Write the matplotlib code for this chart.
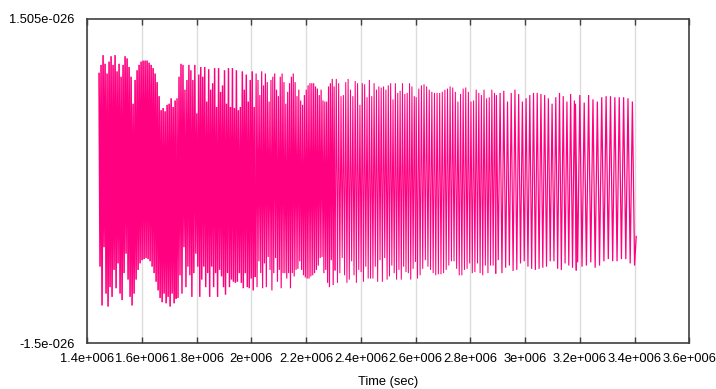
import numpy as np
import matplotlib
matplotlib.use("Agg")
import matplotlib.pyplot as plt

plt.rcParams["font.family"] = ["Liberation Sans", "DejaVu Sans"]

# strain peaks in units of 1e-27, times in units of 1e6 s
# each stretch: (time of first upper peak, time of last upper peak)
stretch_times = [
    (1.443, 1.721),
    (1.728, 2.010),
    (2.017, 2.302),
    (2.310, 2.595),
    (2.602, 2.888),
    (2.895, 3.180),
    (3.184, 3.392),
]

tops_a = [10.0, 10.8, 11.7, 10.9, 10.0, 11.1, 11.6, 10.8, 11.7, 10.2, 10.9, 9.7, 10.8,
          11.6, 11.4, 10.6, 9.7, 7.2, 9.4, 10.3, 10.8, 11.1, 11.2, 11.2, 11.2, 11.0,
          10.8, 10.5, 10.0, 9.2, 7.9, 6.6, 6.8, 6.5, 7.1, 7.2, 7.7, 6.9, 7.5]
bots_a = [-7.9, -11.5, -6.1, -10.4, -11.6, -9.8, -10.7, -8.2, -9.9, -7.6, -10.4, -11.0,
          -8.5, -6.7, -9.1, -10.7, -11.5, -10.4, -9.1, -8.2, -7.6, -7.3, -7.2, -7.1,
          -7.2, -7.4, -7.9, -8.5, -9.3, -10.1, -10.8, -11.2, -10.4, -11.3, -10.7, -11.6,
          -10.4, -11.3, -10.8]

tops_b = [7.7, 9.7, 10.9, 10.8, 8.5, 9.4, 10.8, 10.3, 9.4, 10.8, 6.3, 9.9, 10.6, 9.7,
          10.6, 7.4, 10.4, 8.5, 9.1, 10.5, 6.9, 10.5, 8.3, 8.9, 10.3, 7.2, 10.5, 6.9,
          10.5, 6.8, 10.3, 6.6, 6.9, 10.2, 8.5, 9.9, 7.4, 9.4, 10.2, 6.9]
bots_b = [-10.8, -8.7, -10.4, -6.1, -9.8, -7.9, -8.7, -10.7, -8.5, -6.7, -7.9, -10.7,
          -9.1, -7.9, -9.8, -8.5, -10.7, -7.9, -9.8, -8.5, -10.7, -8.2, -8.8, -9.8,
          -10.5, -8.5, -9.8, -9.1, -9.3, -9.4, -9.3, -8.5, -9.4, -9.9, -8.5, -9.8,
          -9.9, -9.0, -10.1, -8.8]

tops_c = [10.0, 9.4, 8.0, 10.2, 8.9, 10.0, 9.2, 7.4, 9.4, 9.7, 10.0, 8.5, 7.9, 9.7,
          10.0, 9.2, 7.2, 8.3, 9.1, 9.7, 10.0, 9.2, 7.9, 8.5, 7.5, 7.1, 8.0, 8.5, 8.9,
          9.1, 9.1, 9.1, 8.8, 8.6, 8.0, 8.5, 7.5, 7.4, 7.4, 8.8, 9.1, 9.5, 8.8]
bots_c = [-9.8, -7.4, -8.5, -9.9, -7.6, -9.8, -7.0, -8.2, -10.1, -8.5, -7.1, -9.3,
          -8.2, -9.9, -8.5, -8.5, -9.0, -8.5, -9.9, -8.5, -8.8, -8.2, -8.1, -7.4, -8.2,
          -8.7, -8.9, -9.0, -9.0, -8.8, -8.7, -8.5, -8.2, -7.8, -7.1, -7.0, -8.5, -8.2,
          -9.4, -9.8, -7.3, -9.6, -8.2]

tops_d = [9.5, 9.1, 7.9, 8.0, 9.2, 9.5, 8.5, 7.9, 9.3, 9.1, 7.1, 9.1, 9.0, 7.8, 9.4,
          7.9, 9.1, 8.5, 8.8, 8.7, 8.8, 8.5, 8.9, 9.1, 7.6, 9.1, 8.2, 8.4, 9.1, 8.1,
          8.2, 9.1, 8.8, 7.9]
bots_d = [-9.4, -8.5, -7.1, -8.7, -9.4, -9.1, -7.4, -8.7, -9.4, -8.2, -8.4, -9.3,
          -7.9, -9.0, -9.0, -9.0, -7.9, -9.3, -7.3, -9.3, -7.1, -9.1, -8.8, -7.8, -8.5,
          -9.1, -8.2, -9.1, -7.9, -8.4, -8.5, -9.1, -8.1, -7.4]

tops_e = [7.8, 8.6, 8.9, 9.0, 8.8, 8.5, 8.3, 8.2, 8.2, 8.2, 8.3, 8.5, 8.6, 8.8, 8.7,
          8.3, 7.4, 8.1, 8.6, 8.7, 8.3, 7.4, 7.5, 8.5, 8.2, 8.0, 8.5, 7.7, 7.8, 8.5, 8.2]
bots_e = [-9.0, -8.7, -8.1, -7.3, -7.9, -8.2, -8.5, -8.7, -8.6, -8.6, -8.5, -8.2,
          -7.8, -7.4, -7.4, -8.1, -8.7, -8.7, -8.2, -8.1, -7.6, -8.5, -8.4, -7.6, -8.5,
          -8.7, -7.8, -8.5, -7.8, -7.8, -8.5]

tops_f = [8.0, 8.2, 8.4, 7.4, 8.2, 8.5, 8.1, 7.4, 7.7, 8.0, 8.2, 8.2, 8.1, 8.0, 7.7,
          7.2, 7.8, 8.2, 7.9, 7.4, 8.1, 7.5]
bots_f = [-7.3, -8.5, -8.0, -7.8, -8.3, -8.2, -7.6, -7.4, -7.9, -8.1, -8.2, -8.1,
          -8.0, -7.9, -7.4, -7.4, -8.1, -8.2, -7.6, -7.8, -8.0, -8.2]

tops_g = [7.2, 8.0, 7.3, 8.0, 7.6, 7.4, 7.8, 7.9, 7.9, 7.8, 7.8, 7.8, 7.7, 7.4]
bots_g = [-7.5, -7.9, -7.8, -7.5, -8.0, -7.8, -7.4, -7.2, -7.4, -7.4, -7.2, -7.2,
          -7.6, -7.8]

last_point = (3.406, -5.1)

tops = [tops_a, tops_b, tops_c, tops_d, tops_e, tops_f, tops_g]
bots = [bots_a, bots_b, bots_c, bots_d, bots_e, bots_f, bots_g]

xtick_pos = [1.4e6, 1.6e6, 1.8e6, 2.0e6, 2.2e6, 2.4e6, 2.6e6, 2.8e6, 3.0e6, 3.2e6, 3.4e6, 3.6e6]
xtick_labels = ["1.4e+006", "1.6e+006", "1.8e+006", "2e+006", "2.2e+006", "2.4e+006",
                "2.6e+006", "2.8e+006", "3e+006", "3.2e+006", "3.4e+006", "3.6e+006"]
ytick_pos = [-1.5e-26, 1.505e-26]
ytick_labels = ["-1.5e-026", "1.505e-026"]

# line width per stretch, so that the dense part stays filled like the original
stretch_lw = [1.15, 1.05, 0.85, 0.75, 0.75, 0.85, 0.9]

fig = plt.figure(figsize=(7.16, 3.89), dpi=100)
ax = fig.add_axes([0.1219, 0.1175, 0.8408, 0.8337])

# zigzag through upper and lower peaks, one stretch at a time
prev = None
for k, ((t0, t1), up, lo) in enumerate(zip(stretch_times, tops, bots)):
    tt = np.linspace(t0, t1, len(up))
    half = (t1 - t0) / (len(up) - 1) / 2
    t, h = [], []
    if prev is not None:
        t.append(prev[0])
        h.append(prev[1])
    for ti, a, b in zip(tt, up, lo):
        t += [ti, ti + half]
        h += [a, b]
    if k == len(tops) - 1:
        t.append(last_point[0])
        h.append(last_point[1])
    prev = (t[-1], h[-1])
    ax.plot(np.array(t) * 1e6, np.array(h) * 1e-27, color="#ff0080",
            lw=stretch_lw[k], solid_joinstyle="miter")

ax.set_xlim(1.4e6, 3.6e6)
ax.set_ylim(-1.5e-26, 1.505e-26)
ax.set_xticks(xtick_pos)
ax.set_xticklabels(xtick_labels, fontsize=9.3)
ax.set_yticks(ytick_pos)
ax.set_yticklabels(ytick_labels, fontsize=9.3)
ax.grid(axis="x", color="#dcdcdc", lw=1.0)
ax.set_axisbelow(True)

ax.tick_params(axis="x", direction="in", top=True, length=4, width=1.0,
               color="#404040", pad=7)
ax.tick_params(axis="y", length=0, pad=9)
for s in ax.spines.values():
    s.set_color("#404040")
    s.set_linewidth(1.2)

ax.set_xlabel("Time (sec)", fontsize=9.3, labelpad=8)

fig.savefig("out.png", dpi=100)
